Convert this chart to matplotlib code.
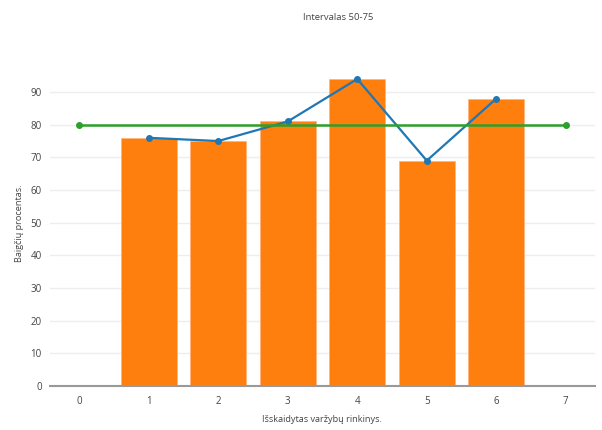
import matplotlib
matplotlib.use("Agg")
import matplotlib.pyplot as plt

categories = [1, 2, 3, 4, 5, 6]
bar_values = [76, 75, 81, 94, 69, 88]
line_values = [76, 75, 81, 94, 69, 88]
target_x = [0, 7]
target_y = [80, 80]
x_ticks = [0, 1, 2, 3, 4, 5, 6, 7]
y_ticks = [0, 10, 20, 30, 40, 50, 60, 70, 80, 90]

plt.rcParams['font.family'] = ['Open Sans', 'DejaVu Sans']

W, H = 602, 430
fig = plt.figure(figsize=(W / 100, H / 100), dpi=100)
left, right, top, bottom = 50, 595, 63, 386
ax = fig.add_axes([left / W, 1 - bottom / H, (right - left) / W, (bottom - top) / H])

ax.bar(categories, bar_values, width=0.8, color='#ff7f0e', edgecolor='#ffb27a',
       linewidth=0.5, zorder=2)
ax.plot(categories, line_values, color='#1f77b4', lw=1.6, marker='o', ms=4, zorder=3)
ax.plot(target_x, target_y, color='#2ca02c', lw=1.8, marker='o', ms=4, zorder=3)

ax.set_xlim(-0.42, 7.42)
ax.set_ylim(0, 98.9)
ax.set_xticks(x_ticks)
ax.set_yticks(y_ticks)
ax.grid(axis='y', color='#eeeeee', lw=1, zorder=0)
ax.set_axisbelow(True)
for s in ['top', 'right', 'left']:
    ax.spines[s].set_visible(False)
ax.spines['bottom'].set_color('#999999')
ax.spines['bottom'].set_linewidth(1.5)
ax.tick_params(axis='both', length=0, labelsize=7, colors='#444444', pad=6)
ax.tick_params(axis='x', pad=7)

fig.text(338 / W, 1 - 17 / H, 'Intervalas 50-75', ha='center', va='center', fontsize=6.8, color='#444444')
fig.text(322 / W, 1 - 420 / H, 'Išskaidytas varžybų rinkinys.', ha='center', va='center', fontsize=6.6, color='#444444')
fig.text(20 / W, 1 - 223 / H, 'Baigčių procentas.', ha='center', va='center', rotation=90, fontsize=6.6, color='#444444')

fig.savefig('out.png', dpi=100)
